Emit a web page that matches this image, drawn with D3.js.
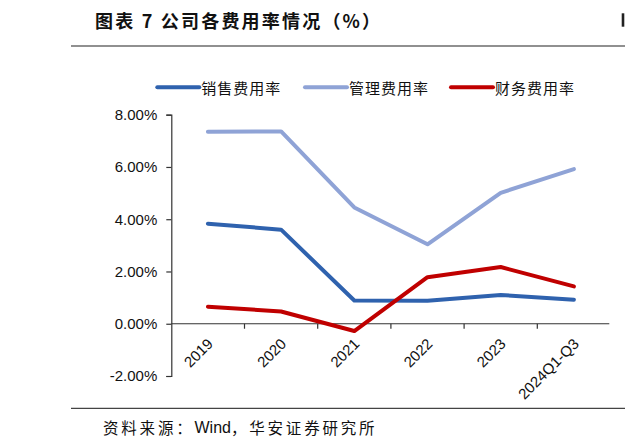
<!DOCTYPE html>
<html>
<head>
<meta charset="utf-8">
<script src="https://cdn.jsdelivr.net/npm/d3@7"></script>
<style>
  body { margin: 0; background: #fff; }
  svg { display: block; }
</style>
</head>
<body>
<div id="chart"></div>
<script>
// data
const categories = ["2019", "2020", "2021", "2022", "2023", "2024Q1-Q3"];
const salesRate = [3.83, 3.60, 0.89, 0.88, 1.10, 0.92];
const adminRate = [7.35, 7.36, 4.45, 3.04, 5.01, 5.92];
const financeRate = [0.65, 0.47, -0.28, 1.78, 2.17, 1.43];
const yTicks = [-2, 0, 2, 4, 6, 8];

const seriesList = [
  { name: "销售费用率", values: salesRate, color: "#2f62ae" },
  { name: "管理费用率", values: adminRate, color: "#8fa3d6" },
  { name: "财务费用率", values: financeRate, color: "#c00000" },
];

const cjkFont = "'Noto Sans CJK SC', sans-serif";
const latinFont = "'Liberation Sans', Arial, sans-serif";

const width = 625;
const height = 445;

// plot area
const plot = { left: 171.3, right: 610.5, top: 114.7, bottom: 376 };

const svg = d3
  .select("#chart")
  .append("svg")
  .attr("width", width)
  .attr("height", height);

// title + rules
svg
  .append("text")
  .attr("x", 95)
  .attr("y", 27.5)
  .style("font-family", cjkFont)
  .style("font-size", "18px")
  .style("font-weight", "bold")
  .style("letter-spacing", "2.2px")
  .attr("fill", "#111")
  .text("图表 7 公司各费用率情况（%）");

// stroke of the next title, cut off at the right edge
svg
  .append("rect")
  .attr("x", 621.7)
  .attr("y", 13.3)
  .attr("width", 2.6)
  .attr("height", 13.4)
  .attr("fill", "#222");

svg
  .append("line")
  .attr("x1", 71)
  .attr("x2", width)
  .attr("y1", 46)
  .attr("y2", 46)
  .attr("stroke", "#222")
  .attr("stroke-width", 1.2);

svg
  .append("line")
  .attr("x1", 71)
  .attr("x2", width)
  .attr("y1", 408.3)
  .attr("y2", 408.3)
  .attr("stroke", "#444")
  .attr("stroke-width", 1.2);

// source line: CJK parts spaced out, "Wind" plain
const source = svg
  .append("text")
  .attr("x", 103)
  .attr("y", 427)
  .attr("dominant-baseline", "central")
  .style("font-family", cjkFont)
  .style("font-size", "15.5px")
  .attr("fill", "#111");
source.append("tspan").style("letter-spacing", "2.8px").text("资料来源：");
source
  .append("tspan")
  .style("font-family", latinFont)
  .style("font-size", "16px")
  .text("Wind");
source.append("tspan").style("letter-spacing", "2.8px").text("，华安证券研究所");

// scales
const xScale = d3
  .scaleBand()
  .domain(categories)
  .range([plot.left, plot.right])
  .padding(0);

const yScale = d3.scaleLinear().domain([-2, 8]).range([plot.bottom, plot.top]);

const xCenter = (i) => xScale(categories[i]) + xScale.bandwidth() / 2;

// y axis
const yAxis = svg
  .append("g")
  .attr("transform", `translate(${plot.left},0)`)
  .call(
    d3
      .axisLeft(yScale)
      .tickValues(yTicks)
      .tickSize(5)
      .tickPadding(9)
      .tickFormat((d) => d.toFixed(2) + "%")
  );
yAxis.select(".domain").attr("stroke", "#333").attr("stroke-width", 1.2);
yAxis.selectAll(".tick line").attr("stroke", "#333").attr("stroke-width", 1.2);
yAxis
  .selectAll(".tick text")
  .style("font-family", latinFont)
  .style("font-size", "15px")
  .attr("fill", "#111");

// x axis at zero
const y0 = yScale(0);
svg
  .append("line")
  .attr("x1", plot.left)
  .attr("x2", plot.right - 1.2)
  .attr("y1", y0)
  .attr("y2", y0)
  .attr("stroke", "#333")
  .attr("stroke-width", 1.2);

svg
  .append("g")
  .selectAll("line")
  .data(categories.slice(1))
  .join("line")
  .attr("x1", (d) => xScale(d))
  .attr("x2", (d) => xScale(d))
  .attr("y1", y0)
  .attr("y2", y0 + 5)
  .attr("stroke", "#333")
  .attr("stroke-width", 1.2);

svg
  .append("g")
  .selectAll("text")
  .data(categories)
  .join("text")
  .attr(
    "transform",
    (d, i) => `translate(${xCenter(i) + 6},${y0 + 21}) rotate(-45)`
  )
  .attr("text-anchor", "end")
  .style("font-family", latinFont)
  .style("font-size", "15px")
  .attr("fill", "#111")
  .text((d) => d);

// lines
const lineGen = d3
  .line()
  .x((d, i) => xCenter(i))
  .y((d) => yScale(d));

svg
  .append("g")
  .selectAll("path")
  .data(seriesList)
  .join("path")
  .attr("d", (s) => lineGen(s.values))
  .attr("fill", "none")
  .attr("stroke", (s) => s.color)
  .attr("stroke-width", 4)
  .attr("stroke-linecap", "round")
  .attr("stroke-linejoin", "round");

// legend
const legendX = [157.3, 305, 451];
const legend = svg
  .append("g")
  .selectAll("g")
  .data(seriesList)
  .join("g")
  .attr("transform", (d, i) => `translate(${legendX[i]},87.3)`);

legend
  .append("line")
  .attr("x1", 0)
  .attr("x2", 42)
  .attr("stroke", (d) => d.color)
  .attr("stroke-width", 4)
  .attr("stroke-linecap", "round");

legend
  .append("text")
  .attr("x", 44)
  .attr("dominant-baseline", "central")
  .style("font-family", cjkFont)
  .style("font-size", "15px")
  .style("letter-spacing", "1px")
  .attr("fill", "#111")
  .text((d) => d.name);
</script>
</body>
</html>
